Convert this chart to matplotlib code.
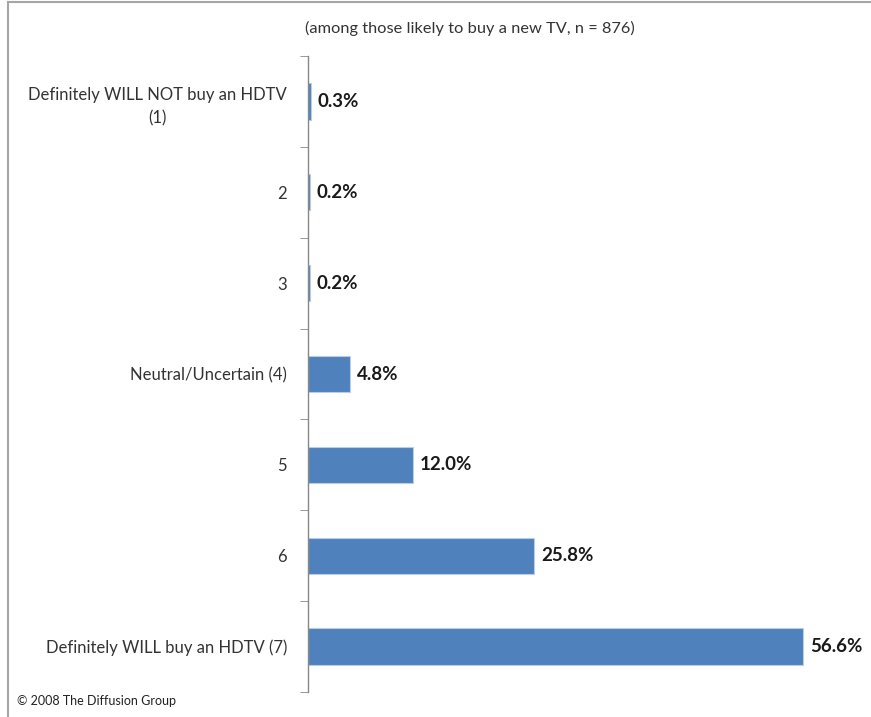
import matplotlib.pyplot as plt
from matplotlib.lines import Line2D

categories = [
    "Definitely WILL NOT buy an HDTV\n(1)",
    "2",
    "3",
    "Neutral/Uncertain (4)",
    "5",
    "6",
    "Definitely WILL buy an HDTV (7)",
]
values = [0.3, 0.2, 0.2, 4.8, 12.0, 25.8, 56.6]
value_labels = ["0.3%", "0.2%", "0.2%", "4.8%", "12.0%", "25.8%", "56.6%"]

plt.rcParams['font.family'] = ['Lato', 'DejaVu Sans']

fig = plt.figure(figsize=(8.71, 7.17), dpi=100)
ax = fig.add_axes([308 / 871, 25 / 717, 525 / 871, 636 / 717])

pos = list(range(len(categories)))
ax.barh(pos, values, height=0.4, color='#4F81BD', edgecolor='#B9CDE5', linewidth=0.8)
ax.set_ylim(len(categories) - 0.5, -0.5)
ax.set_xlim(0, 60)

for p, v, lab in zip(pos, values, value_labels):
    ax.text(v + 0.8, p, lab, va='center', ha='left', fontsize=13.5,
            fontweight='bold', color='#1a1a1a')

ax.set_yticks(pos)
ax.set_yticklabels(categories, fontsize=12, color='#333333',
                   multialignment='center', linespacing=1.6)
ax.tick_params(axis='y', which='major', length=0, pad=15)
ax.set_yticks([p + 0.5 for p in [-1] + pos], minor=True)
ax.tick_params(axis='y', which='minor', length=6, color='#888888', direction='out')
ax.set_xticks([])
for s in ['top', 'right', 'bottom']:
    ax.spines[s].set_visible(False)
ax.spines['left'].set_color('#888888')
ax.spines['left'].set_linewidth(1.0)

fig.text(470 / 871, 1 - 28 / 717, "(among those likely to buy a new TV, n = 876)",
         ha='center', va='center', fontsize=11.8, color='#333333')
fig.text(17 / 871, 1 - 701 / 717, "\u00a9 2008 The Diffusion Group",
         ha='left', va='center', fontsize=9, color='#222222')

# outer frame (top and left edges visible)
fig.add_artist(Line2D([8 / 871, 1], [1 - 2 / 717, 1 - 2 / 717], transform=fig.transFigure,
                      color='#A6A6A6', linewidth=1.5))
fig.add_artist(Line2D([8 / 871, 8 / 871], [0, 1 - 2 / 717], transform=fig.transFigure,
                      color='#A6A6A6', linewidth=1.5))

fig.savefig("out.png", dpi=100, facecolor='white')
